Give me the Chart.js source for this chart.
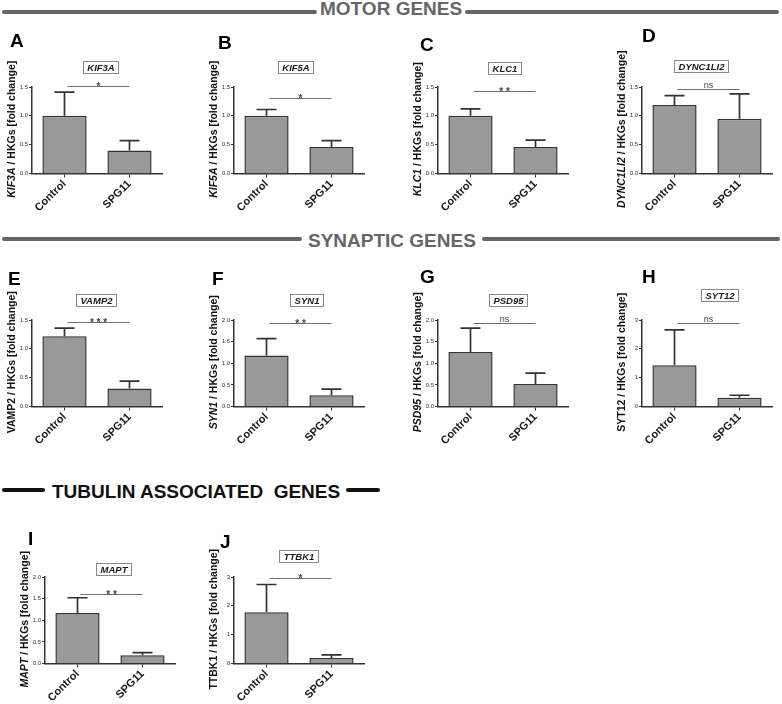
<!DOCTYPE html>
<html>
<head>
<meta charset="utf-8">
<script src="https://cdn.jsdelivr.net/npm/chart.js@4"></script>
<style>
  body { margin:0; width:782px; height:704px; background:#fff; position:relative; overflow:hidden;
         font-family:"Liberation Sans", Arial, sans-serif; }
  .ln { position:absolute; height:4px; border-radius:2px; }
  .hd { position:absolute; font-size:19px; line-height:19px; font-weight:bold; white-space:pre; }
  canvas { position:absolute; }
</style>
</head>
<body>
<!-- section headers -->
<div class="ln" style="left:2px;top:10px;width:315px;background:#666"></div>
<div class="hd" style="left:320px;top:-1px;color:#666">MOTOR GENES</div>
<div class="ln" style="left:465px;top:10px;width:314px;background:#666"></div>

<div class="ln" style="left:2px;top:237px;width:300px;background:#666"></div>
<div class="hd" style="left:308px;top:231px;color:#666">SYNAPTIC GENES</div>
<div class="ln" style="left:482px;top:237px;width:298px;background:#666"></div>

<div class="ln" style="left:2px;top:488px;width:43px;background:#111"></div>
<div class="hd" style="left:52px;top:482px;color:#111">TUBULIN ASSOCIATED  GENES</div>
<div class="ln" style="left:346px;top:488px;width:34px;background:#111"></div>

<script>
// ---- data ----
const letters = ['A', 'B', 'C', 'D', 'E', 'F', 'G', 'H', 'I', 'J'];
const genes = ['KIF3A', 'KIF5A', 'KLC1', 'DYNC1LI2', 'VAMP2', 'SYN1', 'PSD95', 'SYT12', 'MAPT', 'TTBK1'];
const groups = ['Control', 'SPG11'];
const controlMean = [1.00, 1.00, 1.00, 1.19, 1.22, 1.18, 1.26, 1.43, 1.17, 1.78];
const controlSem  = [0.41, 0.11, 0.12, 0.16, 0.14, 0.39, 0.55, 1.23, 0.35, 0.96];
const spgMean     = [0.40, 0.46, 0.46, 0.95, 0.31, 0.26, 0.52, 0.30, 0.19, 0.19];
const spgSem      = [0.17, 0.11, 0.12, 0.43, 0.13, 0.14, 0.25, 0.09, 0.06, 0.11];
const sigLabel = ['*', '*', '**', 'ns', '***', '**', 'ns', 'ns', '**', '*'];
const sigLevel = [1.52, 1.31, 1.43, 1.46, 1.47, 1.94, 1.94, 2.91, 1.60, 2.97];
const yMax  = [1.5, 1.5, 1.5, 1.5, 1.5, 2, 2, 3, 2, 3];
const yStep = [0.5, 0.5, 0.5, 0.5, 0.5, 0.5, 0.5, 1, 0.5, 1];
const italicGene = [true, true, true, true, false, true, true, false, true, false];

// ---- layout (y axis x, top of plot area) ----
const plotPos = [[32, 87], [234, 87], [438, 87], [642, 87],
                 [32, 320], [234, 320], [438, 320], [642, 320],
                 [45, 577], [234, 577]];
const letterPos = [[-22, -40], [-16, -38], [-18, -36], [0, -45],
                   [-24, -35], [-22, -35], [-18, -37], [0, -37],
                   [-17, -32], [-14, -29]];
const boxPos = [[68, -26], [61, -26], [66, -25], [59, -27],
                [64, -26], [72, -26], [70, -26], [77, -31],
                [68, -14], [64, -27]];

const LEFT = 34, TOP = 62, PW = 130, PH = 86.5, CW = 172, CH = 200;
const FONT = '"Liberation Sans", Arial, sans-serif';
Chart.defaults.font.family = FONT;

const extras = {
  id: 'extras',
  afterDatasetsDraw(chart, args, o) {
    const i = o.idx;
    const {ctx, scales: {y}} = chart;
    const bars = chart.getDatasetMeta(0).data;
    const means = [controlMean[i], spgMean[i]];
    const sems = [controlSem[i], spgSem[i]];
    ctx.save();
    ctx.strokeStyle = '#333';
    ctx.lineWidth = 1.7;
    bars.forEach((b, k) => {
      const t = y.getPixelForValue(means[k] + sems[k]);
      ctx.beginPath();
      ctx.moveTo(b.x, b.y);
      ctx.lineTo(b.x, t);
      ctx.moveTo(b.x - 10, t);
      ctx.lineTo(b.x + 10, t);
      ctx.stroke();
    });
    // significance bracket
    const sy = Math.round(y.getPixelForValue(sigLevel[i])) + 0.5;
    const x1 = bars[0].x + 3, x2 = bars[1].x;
    ctx.strokeStyle = '#6f6f6f';
    ctx.lineWidth = 1;
    ctx.beginPath();
    ctx.moveTo(x1, sy);
    ctx.lineTo(x2, sy);
    ctx.stroke();
    ctx.fillStyle = '#444';
    ctx.textAlign = 'center';
    ctx.textBaseline = 'alphabetic';
    if (sigLabel[i] === 'ns') {
      ctx.font = '9px ' + FONT;
      ctx.fillText('ns', (x1 + x2) / 2, sy - 1.5);
    } else {
      ctx.font = 'bold 10px ' + FONT;
      ctx.fillText(sigLabel[i].split('').join(' '), (x1 + x2) / 2, sy + 3.5);
    }
    ctx.restore();
  },
  afterDraw(chart, args, o) {
    const i = o.idx;
    const {ctx, chartArea: ca} = chart;
    ctx.save();
    // panel letter
    ctx.fillStyle = '#000';
    ctx.font = 'bold 19px ' + FONT;
    ctx.textAlign = 'left';
    ctx.textBaseline = 'alphabetic';
    ctx.fillText(letters[i], ca.left + letterPos[i][0], ca.top + letterPos[i][1]);
    // gene title box
    ctx.font = 'italic bold 9.5px ' + FONT;
    const tw = ctx.measureText(genes[i]).width;
    const bw = Math.round(tw + 8), bh = 12;
    const bx = Math.round(ca.left + boxPos[i][0] - bw / 2) + 0.5;
    const by = Math.round(ca.top + boxPos[i][1]) + 0.5;
    ctx.fillStyle = '#fff';
    ctx.fillRect(bx, by, bw, bh);
    ctx.strokeStyle = '#888';
    ctx.lineWidth = 1;
    ctx.strokeRect(bx, by, bw, bh);
    ctx.fillStyle = '#1a1a1a';
    ctx.textAlign = 'center';
    ctx.textBaseline = 'middle';
    ctx.fillText(genes[i], bx + bw / 2, by + bh / 2 + 0.5);
    // y axis title, gene part italic
    const gFont = (italicGene[i] ? 'italic ' : '') + 'bold 10.5px ' + FONT;
    const rFont = 'bold 10.5px ' + FONT;
    const rest = ' / HKGs [fold change]';
    ctx.font = gFont;
    const w1 = ctx.measureText(genes[i]).width;
    ctx.font = rFont;
    const w2 = ctx.measureText(rest).width;
    ctx.translate(ca.left - 20, (ca.top + ca.bottom) / 2 - 1);
    ctx.rotate(-Math.PI / 2);
    ctx.fillStyle = '#111';
    ctx.textAlign = 'left';
    ctx.textBaseline = 'middle';
    const sx = -(w1 + w2) / 2;
    ctx.font = gFont;
    ctx.fillText(genes[i], sx, 0);
    ctx.font = rFont;
    ctx.fillText(rest, sx + w1, 0);
    ctx.restore();
  }
};

genes.forEach((g, i) => {
  const c = document.createElement('canvas');
  c.width = CW;
  c.height = CH;
  c.style.left = (plotPos[i][0] - LEFT) + 'px';
  c.style.top = (plotPos[i][1] - TOP) + 'px';
  document.body.appendChild(c);
  new Chart(c, {
    type: 'bar',
    data: {
      labels: groups,
      datasets: [{
        data: [controlMean[i], spgMean[i]],
        backgroundColor: '#999999',
        borderColor: '#333',
        borderWidth: 1.5,
        barPercentage: 0.68,
        categoryPercentage: 1
      }]
    },
    options: {
      responsive: false,
      maintainAspectRatio: false,
      animation: false,
      layout: { padding: { top: TOP, left: 0, right: CW - LEFT - PW, bottom: 0 } },
      plugins: { legend: { display: false }, tooltip: { enabled: false }, extras: { idx: i } },
      scales: {
        x: {
          afterFit: s => { s.height = CH - TOP - PH; },
          grid: { drawOnChartArea: false, offset: false, tickLength: 4, color: '#333' },
          border: { color: '#333', width: 1.5 },
          ticks: { autoSkip: false, minRotation: 45, maxRotation: 45, padding: 0,
                   color: '#1a1a1a', font: { size: 11, weight: 'bold' } }
        },
        y: {
          min: 0,
          max: yMax[i],
          afterFit: s => { s.width = LEFT; },
          grid: { drawOnChartArea: false, tickLength: 3, color: '#333' },
          border: { color: '#333', width: 1.5 },
          ticks: { stepSize: yStep[i], padding: 1, color: '#333', font: { size: 6 },
                   callback: v => yStep[i] < 1 ? Number(v).toFixed(1) : String(v) }
        }
      }
    },
    plugins: [extras]
  });
});
</script>
</body>
</html>
